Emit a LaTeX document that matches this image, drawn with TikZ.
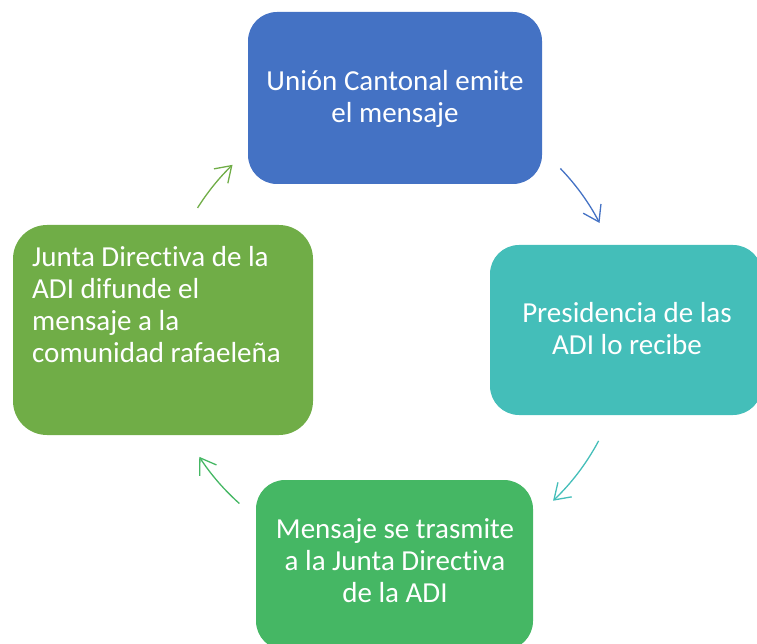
\documentclass[tikz,border=0pt]{standalone}
\usepackage{fontspec}
\setmainfont{Carlito}[Ligatures={NoCommon}]
\usetikzlibrary{arrows.meta,calc}
\definecolor{cblue}{HTML}{4472C4}
\definecolor{cteal}{HTML}{44BEB9}
\definecolor{cgreen}{HTML}{45B764}
\definecolor{clime}{HTML}{70AD47}
\tikzset{
  box/.style={draw=none, rounded corners=#1, inner sep=0pt},
  box/.default=29pt,
  txt/.style={text=white, font=\fontsize{29}{32}\selectfont, inner sep=0pt},
  cyc/.style={line width=1.3pt, -{Straight Barb[length=15pt,width=20pt,line width=1.3pt]}},
}
\begin{document}
\begin{tikzpicture}[x=1pt,y=1pt]
\useasboundingbox (0,0) rectangle (757,643);
% boxes
\node[box, fill=cblue, minimum width=294pt, minimum height=172pt] (top) at (395,545) {};
\node[box, fill=cteal, minimum width=272pt, minimum height=170pt] (right) at (626,313) {};
\node[box, fill=cgreen, minimum width=277pt, minimum height=170pt] (bottom) at (394.5,78) {};
\node[box=34pt, fill=clime, minimum width=300pt, minimum height=210pt] (left) at (163,313) {};
% texts (anchor = baseline of last line)
\node[txt, align=center, anchor=base] (ttop) at (395,520) {Unión Cantonal emite\\el mensaje};
\node[txt, align=center, anchor=base] (tright) at (627,288) {Presidencia de las\\ADI lo recibe};
\node[txt, align=center, anchor=base] (tbottom) at (395,41) {Mensaje se trasmite\\a la Junta Directiva\\de la ADI};
\node[txt, align=left, anchor=base west] (tleft) at (32,280) {Junta Directiva de la\\ADI difunde el\\mensaje a la\\comunidad rafaeleña};
% arrows
\coordinate (c) at (392,312);
\coordinate (cl) at (393,312);
\coordinate (s1) at ($(c)+(44:234)$);
\coordinate (s2) at ($(c)+(-28:234)$);
\coordinate (s3) at ($(cl)+(228.3:231)$);
\coordinate (s4) at ($(cl)+(147.8:231)$);
\draw[cyc, cblue] (s1) arc[start angle=44, end angle=27.5, radius=234];
\draw[cyc, cteal] (s2) arc[start angle=-28, end angle=-46.5, radius=234];
\draw[cyc, cgreen] (s3) arc[start angle=228.3, end angle=213, radius=231];
\draw[cyc, clime] (s4) arc[start angle=147.8, end angle=134, radius=231];
\end{tikzpicture}
\end{document}
